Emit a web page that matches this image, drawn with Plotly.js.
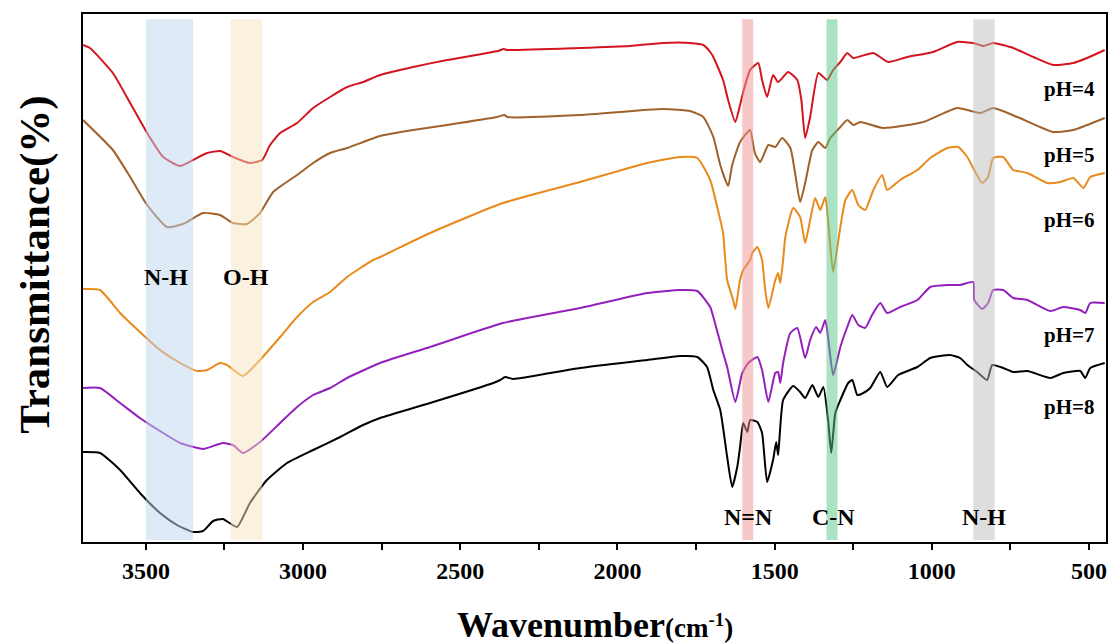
<!DOCTYPE html>
<html>
<head>
<meta charset="utf-8">
<script src="https://cdn.plot.ly/plotly-3.0.1.min.js"></script>
<style>html,body{margin:0;padding:0;background:#fff;}#chart{width:1113px;height:644px;}</style>
</head>
<body>
<div id="chart"></div>
<script>
// Wavenumbers (cm-1) and offset transmittance (arbitrary units)
const wn_pH4 = [3700,3678,3605,3550,3496,3445,3391,3350,3305,3264,3223,3169,3130,3105,3073,3019,2968,2914,2860,2809,2755,2650,2542,2380,2362,2350,2119,1960,1855,1769,1727,1705,1695,1664,1648,1625,1610,1600,1578,1552,1540,1524,1505,1489,1457,1428,1415,1403,1387,1361,1333,1314,1291,1269,1250,1186,1139,1078,996,919,868,836,805,741,677,614,550,506,450];
const t_pH4  = [497,494,469,439,409,385,376,382,389,391,385,379,382,397,409,419,434,445,455,460,467,475,482,491,493,492,494,496,499,499,497,490,485,462,442,420,437,450,472,479,462,445,467,460,470,462,442,404,425,469,462,472,480,489,484,489,480,485,490,500,499,496,499,494,485,477,479,484,492];

const wn_pH5 = [3700,3605,3550,3496,3433,3382,3318,3264,3223,3178,3137,3095,3019,2968,2914,2860,2755,2650,2542,2383,2360,2350,2119,1855,1769,1727,1695,1673,1648,1635,1610,1578,1563,1546,1520,1498,1476,1450,1435,1419,1403,1380,1361,1339,1323,1291,1269,1250,1228,1155,1027,919,846,805,728,614,550,506,450];
const t_pH5  = [422,392,365,337,315,318,329,327,319,318,329,350,367,379,389,394,406,412,417,425,427,425,427,433,431,425,405,377,356,377,400,412,389,380,397,395,404,394,369,340,359,392,400,394,404,415,422,417,420,414,420,434,429,434,425,410,412,417,424];

const wn_pH6 = [3700,3646,3582,3519,3455,3391,3337,3305,3264,3242,3191,3137,3073,3019,2968,2914,2860,2777,2755,2596,2364,2119,1905,1801,1746,1705,1673,1664,1651,1632,1625,1610,1600,1578,1571,1555,1540,1530,1520,1498,1489,1482,1473,1466,1441,1419,1403,1387,1371,1355,1339,1330,1314,1291,1275,1253,1234,1212,1186,1158,1142,1101,1046,1005,951,916,887,862,840,821,805,773,741,696,633,591,550,518,496,450];
const t_pH6  = [253,252,229,210,192,179,171,172,179,177,166,182,205,225,240,250,265,282,285,309,339,360,379,385,384,362,322,309,262,242,233,262,272,282,289,295,282,252,234,262,269,259,282,305,334,325,299,322,344,332,345,322,270,315,342,352,337,332,352,367,352,362,372,384,394,395,385,370,359,365,384,385,372,369,359,360,364,354,365,369];

const wn_pH7 = [3700,3646,3582,3519,3445,3391,3318,3255,3223,3191,3137,3073,3019,2968,2914,2860,2755,2596,2364,2119,1905,1801,1746,1705,1695,1664,1651,1625,1603,1584,1555,1540,1520,1498,1489,1482,1473,1450,1428,1403,1387,1368,1355,1339,1330,1314,1291,1269,1253,1234,1212,1190,1164,1142,1101,1046,1005,951,910,868,865,840,821,805,773,741,696,623,582,528,512,496,450];
const t_pH7  = [154,154,139,124,109,99,93,99,97,89,100,119,135,147,154,164,179,195,219,234,249,252,251,235,225,189,175,140,169,179,185,172,140,169,170,159,179,209,214,184,202,215,209,222,205,167,195,215,227,217,214,227,239,229,235,242,255,257,257,260,242,233,239,252,252,244,242,231,235,232,229,239,239];

const wn_pH8 = [3700,3646,3582,3519,3455,3401,3350,3318,3286,3255,3210,3169,3115,3051,2968,2882,2809,2755,2596,2395,2373,2357,2332,2119,1905,1801,1746,1715,1695,1673,1651,1635,1619,1610,1600,1587,1578,1555,1540,1524,1505,1495,1489,1473,1441,1419,1403,1380,1361,1345,1330,1320,1307,1291,1266,1253,1237,1218,1196,1164,1142,1107,1046,1005,942,910,887,856,824,808,773,741,696,623,582,528,512,496,450];
const t_pH8  = [90,89,72,49,29,17,10,11,21,23,15,39,62,79,92,105,117,124,139,159,162,165,163,174,182,186,185,175,152,132,85,55,75,95,119,110,122,120,109,60,82,100,87,142,156,150,144,157,145,155,122,89,129,142,159,162,147,149,154,170,155,167,175,184,187,184,177,170,162,177,174,170,171,164,169,171,164,174,179];

const seriesNames = ["pH=4","pH=5","pH=6","pH=7","pH=8"];
const seriesX = [wn_pH4, wn_pH5, wn_pH6, wn_pH7, wn_pH8];
const seriesY = [t_pH4, t_pH5, t_pH6, t_pH7, t_pH8];
const seriesColors = ["#d3151f","#a0612b","#e98a1c","#9320bd","#000000"];
const labelX = 563;
const labelY = [453, 387, 322, 207, 135];

// Highlighted bands (cm-1)
const bandLabels = ["N-H","O-H","N=N","C-N","N-H"];
const bandFrom = [3500,3230,1603,1335,868];
const bandTo   = [3350,3130,1568,1300,800];
const bandColors = ["rgb(189,213,238)","rgb(245,228,190)","rgb(240,145,145)","rgb(85,200,135)","rgb(190,190,190)"];
const bandLabelX = [3436,3181,1584,1314,833];
const bandLabelY = [265, 265, 25, 25, 25];

const serif = "Liberation Serif, Times New Roman, serif";

const traces = seriesX.map((x, i) => ({
  x: x, y: seriesY[i], type: "scatter", mode: "lines", name: seriesNames[i],
  line: {color: seriesColors[i], width: 2, shape: "spline", smoothing: 0.5},
  hoverinfo: "skip"
}));

const shapes = bandFrom.map((b, i) => ({
  type: "rect", xref: "x", yref: "paper", x0: b, x1: bandTo[i], y0: 0.004, y1: 0.99,
  fillcolor: bandColors[i], opacity: 0.5, line: {width: 0}, layer: "above"
}));

const annotations = [];
seriesNames.forEach((n, i) => annotations.push({
  x: labelX, y: labelY[i], xref: "x", yref: "y", text: n, showarrow: false,
  font: {family: serif, size: 21, color: "#000", weight: "bold"}, xanchor: "center", yanchor: "middle"
}));
bandLabels.forEach((n, i) => annotations.push({
  x: bandLabelX[i], y: bandLabelY[i], xref: "x", yref: "y", text: n, showarrow: false,
  font: {family: serif, size: 24, color: "#000", weight: "bold"}, xanchor: "center", yanchor: "middle"
}));
annotations.push({
  x: -0.047, y: 0.525, xref: "paper", yref: "paper", text: "Transmittance(%)", textangle: -90, showarrow: false,
  font: {family: serif, size: 43, color: "#000", weight: "bold"}, xanchor: "center", yanchor: "middle"
});
annotations.push({
  x: 0.5, y: -0.157, xref: "paper", yref: "paper",
  text: "Wavenumber<span style='font-size:27px'>(cm<sup>-1</sup>)</span>", showarrow: false,
  font: {family: serif, size: 36, color: "#000", weight: "bold"}, xanchor: "center", yanchor: "middle"
});

const layout = {
  width: 1113, height: 644,
  margin: {l: 83, r: 7, t: 14, b: 102},
  paper_bgcolor: "#fff", plot_bgcolor: "#fff",
  showlegend: false,
  xaxis: {
    range: [3700, 446], tick0: 500, dtick: 500, ticks: "outside", ticklen: 6, tickwidth: 2, tickcolor: "#000",
    minor: {dtick: 250, tick0: 250, ticks: "outside", ticklen: 6, tickwidth: 2, tickcolor: "#000"},
    showline: true, linewidth: 2, linecolor: "#000", mirror: true, showgrid: false, zeroline: false,
    tickfont: {family: serif, size: 24, color: "#000", weight: "bold"}
  },
  yaxis: {
    range: [0, 528], showticklabels: false, ticks: "", showgrid: false, zeroline: false,
    showline: true, linewidth: 2, linecolor: "#000", mirror: true
  },
  shapes: shapes,
  annotations: annotations
};

Plotly.newPlot("chart", traces, layout, {displayModeBar: false, staticPlot: true});
</script>
</body>
</html>
